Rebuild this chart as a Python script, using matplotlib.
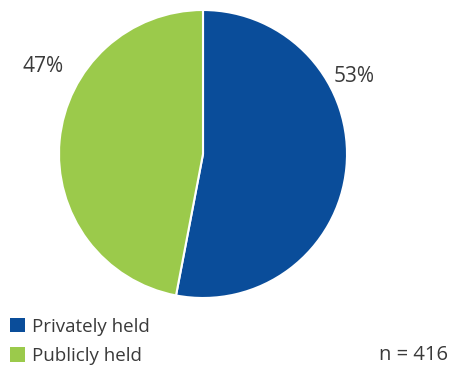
import matplotlib
matplotlib.use("Agg")
import matplotlib.pyplot as plt
from matplotlib.patches import Patch

# share of companies by ownership
labels = ["Privately held", "Publicly held"]
shares = [53, 47]
colors = ["#0a4d9a", "#9bca4b"]
n_total = 416

plt.rcParams["font.family"] = ["Open Sans", "DejaVu Sans"]
text_col = "#3a3a3a"

W, H = 451, 369
fig = plt.figure(figsize=(W / 100, H / 100), dpi=100)

# pie centred at (203, 154) px, radius 144 px
cx, cy, r = 203, 154, 144
ax = fig.add_axes([(cx - r) / W, 1 - (cy + r) / H, 2 * r / W, 2 * r / H])
ax.pie(shares, colors=colors, startangle=90, counterclock=False,
       wedgeprops=dict(edgecolor="white", linewidth=1.5))
ax.set_xlim(-1, 1)
ax.set_ylim(-1, 1)
ax.set_aspect("equal")
ax.axis("off")

# percentage labels
fig.text(354 / W, 1 - 76 / H, f"{shares[0]}%", ha="center", va="center",
         fontsize=15, color=text_col)
fig.text(43 / W, 1 - 67 / H, f"{shares[1]}%", ha="center", va="center",
         fontsize=15, color=text_col)

handles = [Patch(facecolor=c, edgecolor="none") for c in colors]
fig.legend(handles, labels, loc="upper left", bbox_to_anchor=(2 / W, 1 - 310 / H),
           frameon=False, fontsize=13.5, handlelength=0.85, handleheight=0.85,
           handletextpad=0.35, labelspacing=0.62, borderaxespad=0,
           labelcolor=text_col)

fig.text(448 / W, 1 - 355 / H, f"n = {n_total}", ha="right", va="center",
         fontsize=14.5, color=text_col)

fig.savefig("out.png", dpi=100)
